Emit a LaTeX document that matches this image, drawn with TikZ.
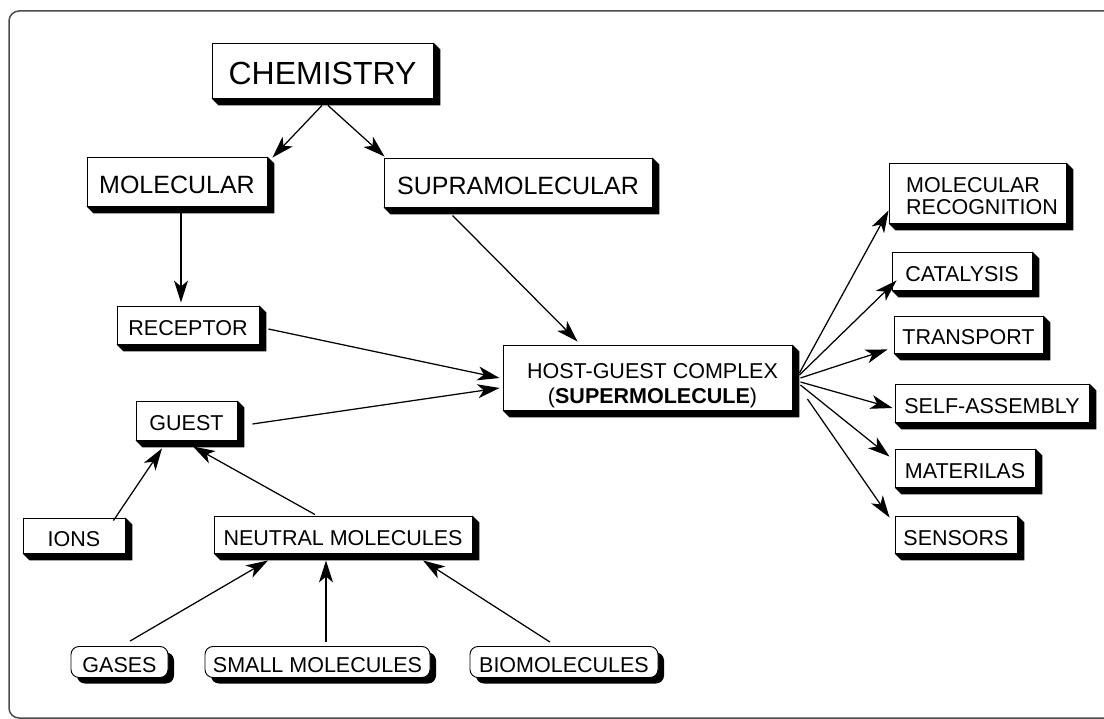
\documentclass[tikz,border=0pt]{standalone}
\usepackage{fontspec}
\setmainfont{Liberation Sans}
\usetikzlibrary{arrows.meta,calc,shadows}
\newcommand\sdep{7}
\newcommand\extr[1]{\fill ($(#1.south west)$) -- ($(#1.south west)+(\sdep,\sdep)$) -- ($(#1.south east)+(\sdep,\sdep)$) -- ($(#1.north east)+(\sdep,\sdep)$) -- (#1.north east) -- (#1.south east) -- cycle;}
\tikzset{
  bx/.style={draw, line width=0.9pt, fill=white, inner sep=0pt, text=black, text depth=0pt},
  fsm/.style={font=\fontsize{21.5}{22}\selectfont, text height=21pt},
  fmd/.style={font=\fontsize{25}{28}\selectfont, text height=24pt},
  rbx/.style={bx, fsm, rounded corners=8pt, drop shadow={shadow xshift=6pt,shadow yshift=-6pt,opacity=1,fill=black}},
  arr/.style={line width=1.25pt, -{Stealth[length=22pt,width=14pt,inset=6pt]}},
  frame/.style={draw=black!70, line width=1.5pt, rounded corners=10pt},
}
\begin{document}
\begin{tikzpicture}[x=1pt,y=-1pt]
\useasboundingbox (0,0) rectangle (1104,719);
\draw[frame] (9,11) rectangle (1140,718);

% top
\node[bx, font=\fontsize{32}{36}\selectfont, text height=29pt, minimum width=221pt, minimum height=55pt] (chem) at (322.5,70.5) {CHEMISTRY};
\node[bx, fmd, minimum width=180pt, minimum height=49pt] (mol) at (177,181.5) {MOLECULAR};
\node[bx, fmd, minimum width=268pt, minimum height=49pt] (supra) at (518,182.5) {SUPRAMOLECULAR};
\node[bx, fsm, minimum width=142pt, minimum height=38pt] (rec) at (188,325) {RECEPTOR};
\node[bx, minimum width=289pt, minimum height=65pt] (host) at (647.5,377.5) {};
\node[font=\fontsize{21.5}{25}\selectfont, align=center, inner sep=0pt] (hostlbl) at (652.5,385.5) {HOST-GUEST COMPLEX\\(\textbf{SUPERMOLECULE})};
\node[bx, fsm, minimum width=101pt, minimum height=39pt] (guest) at (186.5,420.5) {GUEST};
\node[bx, fsm, minimum width=102pt, minimum height=35pt] (ions) at (74,535.5) {IONS};
\node[bx, fsm, minimum width=258pt, minimum height=37pt] (neutral) at (343,534.5) {NEUTRAL MOLECULES};

% bottom rounded
\node[rbx, minimum width=97pt, minimum height=31pt] (gases) at (119.5,662) {GASES};
\node[rbx, minimum width=225pt, minimum height=31pt] (small) at (317.5,662) {SMALL MOLECULES};
\node[rbx, minimum width=188pt, minimum height=31pt] (bio) at (564,662) {BIOMOLECULES};

% right column
\node[bx, minimum width=177pt, minimum height=60pt] (molrec) at (977.5,193) {};
\node[font=\fontsize{21.5}{22}\selectfont, align=left, inner sep=0pt] (molreclbl) at (982,196) {MOLECULAR\\RECOGNITION};
\node[bx, fsm, minimum width=140pt, minimum height=38pt] (cat) at (962,271) {CATALYSIS};
\node[bx, fsm, minimum width=149pt, minimum height=37pt] (trans) at (968.5,334.5) {TRANSPORT};
\node[bx, fsm, minimum width=194pt, minimum height=38pt] (self) at (992,403) {SELF-ASSEMBLY};
\node[bx, fsm, minimum width=140pt, minimum height=38pt] (mat) at (965,468) {MATERILAS};
\node[bx, fsm, minimum width=122pt, minimum height=37pt] (sens) at (956,534.5) {SENSORS};

\foreach \n in {chem,mol,supra,rec,host,guest,ions,neutral,molrec,cat,trans,self,mat,sens} {\extr{\n}}

% connectors
\draw[arr] ($(chem.south)+(-0.5,7)$) -- ($(mol.north east)+(5,1)$);
\draw[arr] ($(chem.south)+(5.5,7)$) -- ($(supra.north west)+(1,-1)$);
\draw[arr] ($(mol.south)+(4,7)$) -- ($(rec.north)+(-7,-3)$);
\draw[arr] ($(supra.south west)+(69,8)$) -- ($(host.north west)+(75,-3)$);
\draw[arr] ($(rec.east)+(9,4)$) -- ($(host.west)+(-3,0.5)$);
\draw[arr] ($(guest.east)+(15,3.5)$) -- ($(host.west)+(-3,10.5)$);
\draw[arr] ($(ions.north east)+(-12,3)$) -- ($(guest.south)+(-24.5,8)$);
\draw[arr] ($(neutral.north)+(-28,-1)$) -- ($(guest.south)+(6.5,6)$);
\draw[arr] ($(gases.north)+(10.5,-5)$) -- ($(neutral.south)+(-75,7)$);
\draw[arr] ($(small.north)+(8.5,-4)$) -- ($(neutral.south)+(-17,7)$);
\draw[arr] ($(bio.north)+(-14,-4)$) -- ($(neutral.south)+(80,7)$);

\draw[arr] ($(host.east)+(7,-4.5)$) -- ($(molrec.south west)+(0,-13)$);
\draw[arr] ($(host.east)+(7,-2.5)$) -- ($(cat.south west)+(5,-10)$);
\draw[arr] ($(host.east)+(8,0.5)$) -- ($(trans.south west)+(-6,-4)$);
\draw[arr] ($(host.east)+(8,4.5)$) -- ($(self.west)+(-2,5)$);
\draw[arr] ($(host.east)+(8,7.5)$) -- ($(mat.north west)+(-5,8)$);
\draw[arr] ($(host.east)+(15,21.5)$) -- ($(sens.north west)+(-5,2)$);
\end{tikzpicture}
\end{document}
